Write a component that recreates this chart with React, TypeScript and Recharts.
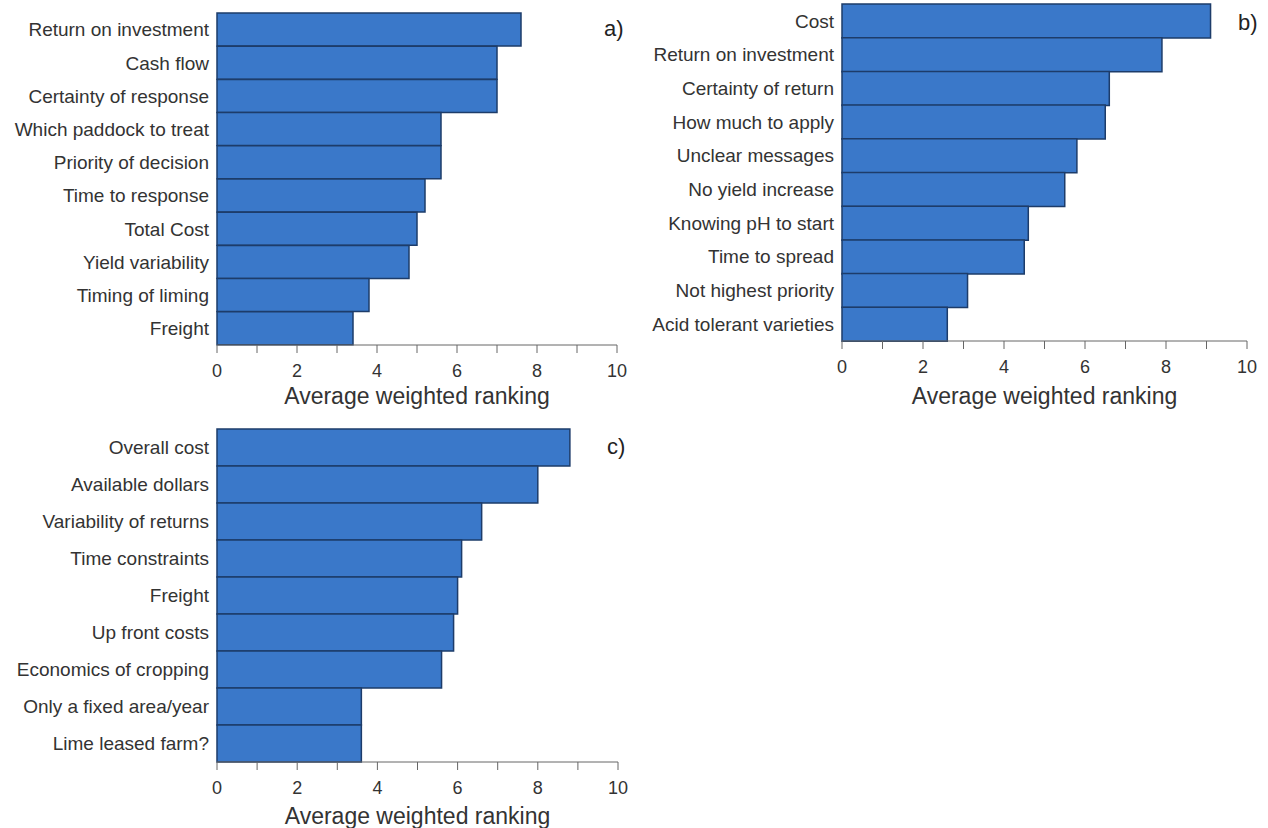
import { Bar, BarChart, XAxis, YAxis } from 'recharts';

const labelsA = [
  'Return on investment',
  'Cash flow',
  'Certainty of response',
  'Which paddock to treat',
  'Priority of decision',
  'Time to response',
  'Total Cost',
  'Yield variability',
  'Timing of liming',
  'Freight',
];
const valuesA = [7.6, 7.0, 7.0, 5.6, 5.6, 5.2, 5.0, 4.8, 3.8, 3.4];

const labelsB = [
  'Cost',
  'Return on investment',
  'Certainty of return',
  'How much to apply',
  'Unclear messages',
  'No yield increase',
  'Knowing pH to start',
  'Time to spread',
  'Not highest priority',
  'Acid tolerant varieties',
];
const valuesB = [9.1, 7.9, 6.6, 6.5, 5.8, 5.5, 4.6, 4.5, 3.1, 2.6];

const labelsC = [
  'Overall cost',
  'Available dollars',
  'Variability of returns',
  'Time constraints',
  'Freight',
  'Up front costs',
  'Economics of cropping',
  'Only a fixed area/year',
  'Lime leased farm?',
];
const valuesC = [8.8, 8.0, 6.6, 6.1, 6.0, 5.9, 5.6, 3.6, 3.6];

const xTicks = [0, 1, 2, 3, 4, 5, 6, 7, 8, 9, 10];
const xTitle = 'Average weighted ranking';

const FONT = '"Liberation Sans", Arial, Helvetica, sans-serif';
const c = {
  fill: '#3a78c9',
  stroke: '#1d3c6a',
  axis: '#666666',
  text: '#333333',
};

type PanelProps = {
  labels: string[];
  values: number[];
  tag: string;
  left: number;
  top: number;
  width: number;
  height: number;
  margin: { top: number; right: number; left: number; bottom: number };
  yWidth: number;
  xHeight: number;
  tagX: number;
  tagY: number;
};

function Panel(p: PanelProps) {
  const data = p.labels.map((name, i) => ({ name, value: p.values[i] }));
  return (
    <div style={{ position: 'absolute', left: p.left, top: p.top }}>
      <BarChart
        width={p.width}
        height={p.height}
        data={data}
        layout="vertical"
        barCategoryGap={0}
        margin={p.margin}
      >
        <XAxis
          type="number"
          domain={[0, 10]}
          ticks={xTicks}
          interval={0}
          tickFormatter={(v: number) => (v % 2 === 0 ? String(v) : '')}
          tick={{ fill: c.text, fontSize: 18, fontFamily: FONT }}
          fontSize={18}
          stroke={c.axis}
          tickSize={8}
          tickMargin={11}
          height={p.xHeight}
          label={{
            value: xTitle,
            position: 'insideBottom',
            offset: 0,
            fill: c.text,
            fontSize: 23,
            fontFamily: FONT,
          }}
        />
        <YAxis
          type="category"
          dataKey="name"
          width={p.yWidth}
          axisLine={false}
          tickLine={false}
          tickSize={0}
          tickMargin={8}
          interval={0}
          tick={{ fill: c.text, fontSize: 19, fontFamily: FONT }}
        />
        <Bar
          dataKey="value"
          fill={c.fill}
          stroke={c.stroke}
          strokeWidth={1.5}
          isAnimationActive={false}
        />
      </BarChart>
      <div
        style={{
          position: 'absolute',
          left: p.tagX,
          top: p.tagY,
          fontFamily: FONT,
          fontSize: 22,
          color: '#222',
          lineHeight: 1,
        }}
      >
        {p.tag}
      </div>
    </div>
  );
}

export default function App() {
  return (
    <div
      style={{
        position: 'absolute',
        left: 0,
        top: 0,
        width: 1268,
        height: 828,
        background: '#ffffff',
        overflow: 'hidden',
      }}
    >
      <Panel
        labels={labelsA}
        values={valuesA}
        tag="a)"
        left={0}
        top={0}
        width={640}
        height={410}
        margin={{ top: 13, right: 23, left: 0, bottom: 6 }}
        yWidth={217}
        xHeight={59}
        tagX={604}
        tagY={18}
      />
      <Panel
        labels={labelsB}
        values={valuesB}
        tag="b)"
        left={620}
        top={0}
        width={648}
        height={410}
        margin={{ top: 4, right: 21, left: 0, bottom: 6 }}
        yWidth={222}
        xHeight={63}
        tagX={618}
        tagY={12}
      />
      <Panel
        labels={labelsC}
        values={valuesC}
        tag="c)"
        left={0}
        top={420}
        width={640}
        height={408}
        margin={{ top: 9, right: 22, left: 0, bottom: 4 }}
        yWidth={217}
        xHeight={62}
        tagX={607}
        tagY={16}
      />
    </div>
  );
}
